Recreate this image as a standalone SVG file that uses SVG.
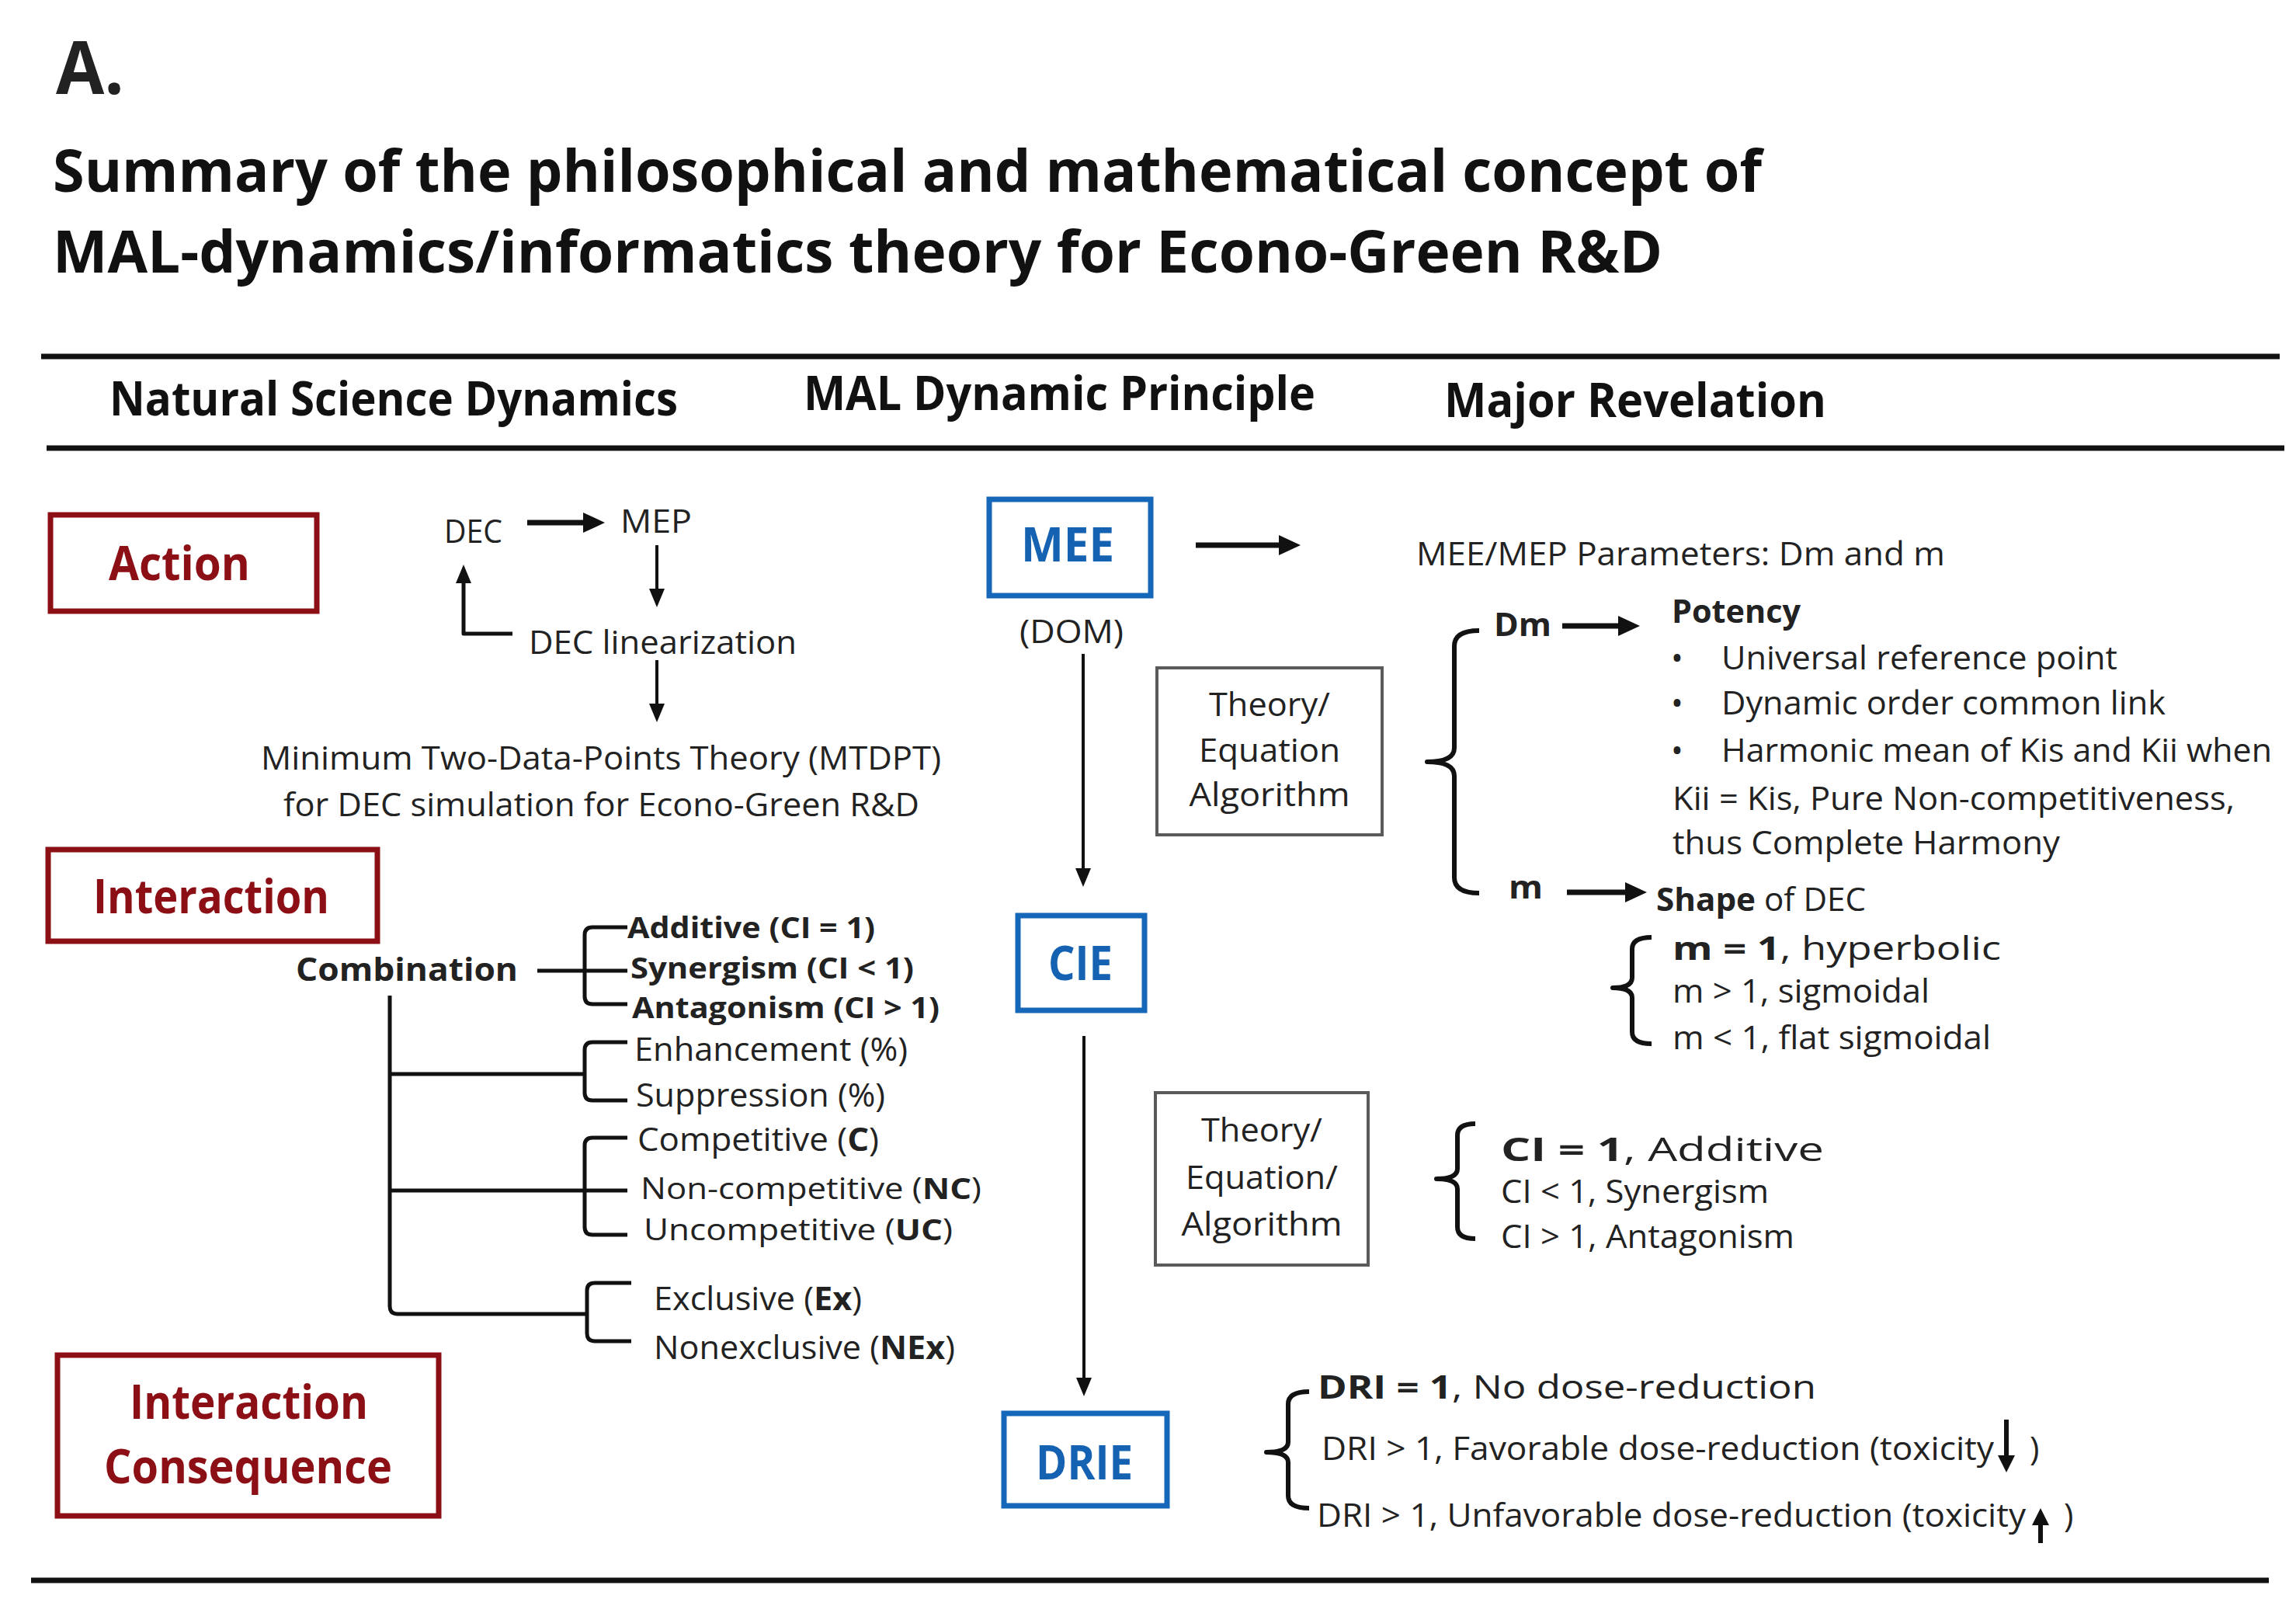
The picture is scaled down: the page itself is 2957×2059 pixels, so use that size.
<svg xmlns="http://www.w3.org/2000/svg" width="2957" height="2059" viewBox="0 0 2957 2059">
<style>
text{font-family:"Open Sans","Liberation Sans",sans-serif;fill:#222}
.b{font-weight:bold}
.ttl{font-weight:bold;font-size:76px;fill:#111}
.hdr{font-weight:bold;font-size:60px;fill:#111}
.body{font-size:42px}
.sm{font-size:38px}
.red{font-weight:bold;font-size:60px;fill:#8b0f14}
.blue{font-weight:bold;font-size:60px;fill:#1562b2}
.rbox{fill:none;stroke:#8b0f14;stroke-width:7}
.bbox{fill:none;stroke:#1567b9;stroke-width:7}
.gbox{fill:none;stroke:#5a5a5a;stroke-width:4}
.rule{stroke:#111;stroke-width:7}
.ln{fill:none;stroke:#111;stroke-width:5;stroke-linejoin:round}
.thin{fill:none;stroke:#111;stroke-width:4}
.thick{fill:none;stroke:#111;stroke-width:7}
.br{fill:none;stroke:#111;stroke-width:6;stroke-linejoin:round;stroke-linecap:butt}
</style>
<defs>
<marker id="ah" markerUnits="userSpaceOnUse" markerWidth="24" markerHeight="20" refX="4" refY="10" orient="auto"><path d="M0,0 L24,10 L0,20 z" fill="#111"/></marker>
<marker id="ahb" markerUnits="userSpaceOnUse" markerWidth="28" markerHeight="26" refX="4" refY="13" orient="auto"><path d="M0,0 L28,13 L0,26 z" fill="#111"/></marker>
<marker id="ahs" markerUnits="userSpaceOnUse" markerWidth="22" markerHeight="22" refX="3" refY="11" orient="auto"><path d="M0,0 L22,11 L0,22 z" fill="#111"/></marker>
</defs>
<rect width="2957" height="2059" fill="#fff"/>

<g id="title">
<text x="72" y="121" class="b" font-size="95" fill="#111" textLength="88" lengthAdjust="spacingAndGlyphs">A.</text>
<text x="68" y="247" class="ttl" textLength="2201" lengthAdjust="spacingAndGlyphs">Summary of the philosophical and mathematical concept of</text>
<text x="68" y="351" class="ttl" textLength="2073" lengthAdjust="spacingAndGlyphs">MAL-dynamics/informatics theory for Econo-Green R&amp;D</text>
</g>

<g id="headers">
<line x1="53" y1="459" x2="2936" y2="459" class="rule"/>
<text x="141" y="535" class="hdr" textLength="732" lengthAdjust="spacingAndGlyphs">Natural  Science Dynamics</text>
<text x="1035" y="528" class="hdr" textLength="659" lengthAdjust="spacingAndGlyphs">MAL Dynamic Principle</text>
<text x="1860" y="537" class="hdr" textLength="492" lengthAdjust="spacingAndGlyphs">Major Revelation</text>
<line x1="60" y1="577" x2="2942" y2="577" class="rule"/>
<line x1="40" y1="2035" x2="2922" y2="2035" class="rule"/>
</g>

<g id="connectors">
<line x1="679" y1="673" x2="755" y2="673" class="thick" marker-end="url(#ahb)"/>
<line x1="846" y1="702" x2="846" y2="762" class="thin" marker-end="url(#ah)"/>
<polyline points="660,816 597,816 597,747" class="ln" marker-end="url(#ah)"/>
<line x1="846" y1="850" x2="846" y2="910" class="thin" marker-end="url(#ah)"/>
<line x1="1395" y1="842" x2="1395" y2="1122" class="thin" marker-end="url(#ah)"/>
<line x1="1396" y1="1334" x2="1396" y2="1778" class="thin" marker-end="url(#ah)"/>
<line x1="1540" y1="702" x2="1651" y2="702" class="thick" marker-end="url(#ahb)"/>
<line x1="2012" y1="806" x2="2088" y2="806" class="thick" marker-end="url(#ahb)"/>
<line x1="2018" y1="1149" x2="2097" y2="1149" class="thick" marker-end="url(#ahb)"/>
<!-- combination tree -->
<line x1="692" y1="1250" x2="808" y2="1250" class="ln"/>
<path d="M808,1194 H763 Q753,1194 753,1204 V1283 Q753,1293 763,1293 H808" class="ln"/>
<path d="M502,1282 V1682 Q502,1692 512,1692 H756" class="ln"/>
<line x1="502" y1="1383" x2="753" y2="1383" class="ln"/>
<path d="M808,1342 H763 Q753,1342 753,1352 V1407 Q753,1417 763,1417 H808" class="ln"/>
<line x1="502" y1="1533" x2="808" y2="1533" class="ln"/>
<path d="M808,1465 H763 Q753,1465 753,1475 V1580 Q753,1590 763,1590 H808" class="ln"/>
<path d="M813,1652 H766 Q756,1652 756,1662 V1717 Q756,1727 766,1727 H813" class="ln"/>
<!-- braces -->
<path d="M1905,812 Q1873,812 1873,832 V963 Q1873,981 1838,981 Q1873,981 1873,999 V1130 Q1873,1150 1905,1150" class="br"/>
<path d="M2127,1207 Q2102,1207 2102,1222 V1259 Q2102,1272 2077,1272 Q2102,1272 2102,1285 V1329 Q2102,1344 2127,1344" class="br"/>
<path d="M1900,1447 Q1877,1447 1877,1462 V1505 Q1877,1518 1850,1518 Q1877,1518 1877,1531 V1580 Q1877,1595 1900,1595" class="br"/>
<path d="M1686,1792 Q1659,1792 1659,1808 V1857 Q1659,1870 1631,1870 Q1659,1870 1659,1883 V1926 Q1659,1942 1686,1942" class="br"/>
<!-- toxicity arrows -->
<line x1="2584" y1="1828" x2="2584" y2="1877" stroke="#111" stroke-width="6" marker-end="url(#ahs)"/>
<line x1="2628" y1="1987" x2="2628" y2="1961" stroke="#111" stroke-width="6" marker-end="url(#ahs)"/>
</g>

<g id="action">
<rect x="65" y="663" width="343" height="124" class="rbox"/>
<text x="140" y="747" class="red" textLength="182" lengthAdjust="spacingAndGlyphs">Action</text>
</g>
<g id="dec">
<text x="572" y="699" class="body" textLength="75" lengthAdjust="spacingAndGlyphs">DEC</text>
</g>
<g id="mep">
<text x="799" y="686" class="body" textLength="92" lengthAdjust="spacingAndGlyphs">MEP</text>
</g>
<g id="dec-linearization">
<text x="681" y="842" class="body" textLength="345" lengthAdjust="spacingAndGlyphs">DEC linearization</text>
</g>
<g id="mtdpt">
<text x="336" y="991" class="body" textLength="876" lengthAdjust="spacingAndGlyphs">Minimum Two-Data-Points Theory (MTDPT)</text>
<text x="365" y="1051" class="body" textLength="819" lengthAdjust="spacingAndGlyphs">for DEC simulation for Econo-Green R&amp;D</text>
</g>

<g id="interaction">
<rect x="62" y="1094" width="424" height="118" class="rbox"/>
<text x="120" y="1176" class="red" textLength="304" lengthAdjust="spacingAndGlyphs">Interaction</text>
</g>
<g id="combination">
<text x="381" y="1263" class="body b" font-size="44" textLength="286" lengthAdjust="spacingAndGlyphs">Combination</text>
</g>
<g id="ci-types">
<text x="808" y="1208" class="sm b" textLength="319" lengthAdjust="spacingAndGlyphs">Additive (CI = 1)</text>
<text x="812" y="1260" class="sm b" textLength="365" lengthAdjust="spacingAndGlyphs">Synergism (CI &lt; 1)</text>
<text x="814" y="1311" class="sm b" textLength="396" lengthAdjust="spacingAndGlyphs">Antagonism (CI &gt; 1)</text>
</g>
<g id="percent-types">
<text x="817" y="1366" class="body" textLength="352" lengthAdjust="spacingAndGlyphs">Enhancement (%)</text>
<text x="819" y="1425" class="body" textLength="321" lengthAdjust="spacingAndGlyphs">Suppression (%)</text>
</g>
<g id="mechanism-types">
<text x="821" y="1482" class="body" textLength="311" lengthAdjust="spacingAndGlyphs">Competitive (<tspan class="b">C</tspan>)</text>
<text x="825" y="1544" class="sm" textLength="439" lengthAdjust="spacingAndGlyphs">Non-competitive (<tspan class="b">NC</tspan>)</text>
<text x="829" y="1597" class="sm" textLength="398" lengthAdjust="spacingAndGlyphs">Uncompetitive (<tspan class="b">UC</tspan>)</text>
</g>
<g id="exclusivity-types">
<text x="842" y="1687" class="body" textLength="268" lengthAdjust="spacingAndGlyphs">Exclusive (<tspan class="b">Ex</tspan>)</text>
<text x="842" y="1750" class="body" textLength="388" lengthAdjust="spacingAndGlyphs">Nonexclusive (<tspan class="b">NEx</tspan>)</text>
</g>
<g id="interaction-consequence">
<rect x="74" y="1745" width="491" height="207" class="rbox"/>
<text x="167" y="1827" class="red" textLength="307" lengthAdjust="spacingAndGlyphs">Interaction</text>
<text x="134" y="1910" class="red" textLength="371" lengthAdjust="spacingAndGlyphs">Consequence</text>
</g>

<g id="mee">
<rect x="1274" y="643" width="208" height="124" class="bbox"/>
<text x="1315" y="723" class="blue" textLength="120" lengthAdjust="spacingAndGlyphs">MEE</text>
<text x="1313" y="828" class="body" textLength="134" lengthAdjust="spacingAndGlyphs">(DOM)</text>
</g>
<g id="cie">
<rect x="1311" y="1179" width="163" height="122" class="bbox"/>
<text x="1350" y="1262" class="blue" textLength="83" lengthAdjust="spacingAndGlyphs">CIE</text>
</g>
<g id="drie">
<rect x="1293" y="1820" width="210" height="119" class="bbox"/>
<text x="1334" y="1905" class="blue" textLength="125" lengthAdjust="spacingAndGlyphs">DRIE</text>
</g>
<g id="theory1">
<rect x="1490" y="860" width="290" height="215" class="gbox"/>
<text x="1635" y="922" class="body" font-size="44" text-anchor="middle" textLength="156" lengthAdjust="spacingAndGlyphs">Theory/</text>
<text x="1635" y="981" class="body" font-size="44" text-anchor="middle" textLength="182" lengthAdjust="spacingAndGlyphs">Equation</text>
<text x="1635" y="1038" class="body" font-size="44" text-anchor="middle" textLength="207" lengthAdjust="spacingAndGlyphs">Algorithm</text>
</g>
<g id="theory2">
<rect x="1488" y="1407" width="274" height="222" class="gbox"/>
<text x="1625" y="1470" class="body" font-size="44" text-anchor="middle" textLength="156" lengthAdjust="spacingAndGlyphs">Theory/</text>
<text x="1625" y="1531" class="body" font-size="44" text-anchor="middle" textLength="196" lengthAdjust="spacingAndGlyphs">Equation/</text>
<text x="1625" y="1591" class="body" font-size="44" text-anchor="middle" textLength="207" lengthAdjust="spacingAndGlyphs">Algorithm</text>
</g>

<g id="parameters">
<text x="1824" y="728" class="body" textLength="681" lengthAdjust="spacingAndGlyphs">MEE/MEP Parameters: Dm and m</text>
</g>
<g id="dm">
<text x="1924" y="819" class="body b" textLength="74" lengthAdjust="spacingAndGlyphs">Dm</text>
</g>
<g id="potency">
<text x="2153" y="802" class="body b" textLength="166" lengthAdjust="spacingAndGlyphs">Potency</text>
<text x="2152" y="862" class="body">•</text>
<text x="2217" y="862" class="body" textLength="510" lengthAdjust="spacingAndGlyphs">Universal reference point</text>
<text x="2152" y="920" class="body">•</text>
<text x="2217" y="920" class="body" textLength="572" lengthAdjust="spacingAndGlyphs">Dynamic order common link</text>
<text x="2152" y="981" class="body">•</text>
<text x="2217" y="981" class="body" textLength="709" lengthAdjust="spacingAndGlyphs">Harmonic mean of Kis and Kii when</text>
<text x="2154" y="1043" class="body" textLength="724" lengthAdjust="spacingAndGlyphs">Kii = Kis, Pure Non-competitiveness,</text>
<text x="2154" y="1100" class="body" textLength="499" lengthAdjust="spacingAndGlyphs">thus Complete Harmony</text>
</g>
<g id="m">
<text x="1943" y="1157" class="body b" textLength="44" lengthAdjust="spacingAndGlyphs">m</text>
</g>
<g id="shape">
<text x="2133" y="1173" class="body" textLength="270" lengthAdjust="spacingAndGlyphs"><tspan class="b">Shape</tspan> of DEC</text>
<text x="2154" y="1236" class="body" font-size="46" textLength="423" lengthAdjust="spacingAndGlyphs"><tspan class="b">m = 1</tspan>, hyperbolic</text>
<text x="2154" y="1291" class="body" font-size="38" textLength="331" lengthAdjust="spacingAndGlyphs">m &gt; 1, sigmoidal</text>
<text x="2154" y="1351" class="body" font-size="38" textLength="410" lengthAdjust="spacingAndGlyphs">m &lt; 1, flat sigmoidal</text>
</g>
<g id="ci-values">
<text x="1933" y="1495" class="body" font-size="52" textLength="416" lengthAdjust="spacingAndGlyphs"><tspan class="b">CI = 1</tspan>, Additive</text>
<text x="1933" y="1549" class="body" font-size="38" textLength="345" lengthAdjust="spacingAndGlyphs">CI &lt; 1, Synergism</text>
<text x="1933" y="1607" class="body" font-size="38" textLength="378" lengthAdjust="spacingAndGlyphs">CI &gt; 1, Antagonism</text>
</g>
<g id="dri-values">
<text x="1697" y="1801" class="body" font-size="48" textLength="642" lengthAdjust="spacingAndGlyphs"><tspan class="b">DRI = 1</tspan>, No dose-reduction</text>
<text x="1702" y="1880" class="body" font-size="40" textLength="866" lengthAdjust="spacingAndGlyphs">DRI &gt; 1, Favorable dose-reduction (toxicity</text>
<text x="2614" y="1880" class="body" font-size="40">)</text>
<text x="1696" y="1966" class="body" font-size="40" textLength="913" lengthAdjust="spacingAndGlyphs">DRI &gt; 1, Unfavorable dose-reduction (toxicity</text>
<text x="2658" y="1966" class="body" font-size="40">)</text>
</g>
</svg>
